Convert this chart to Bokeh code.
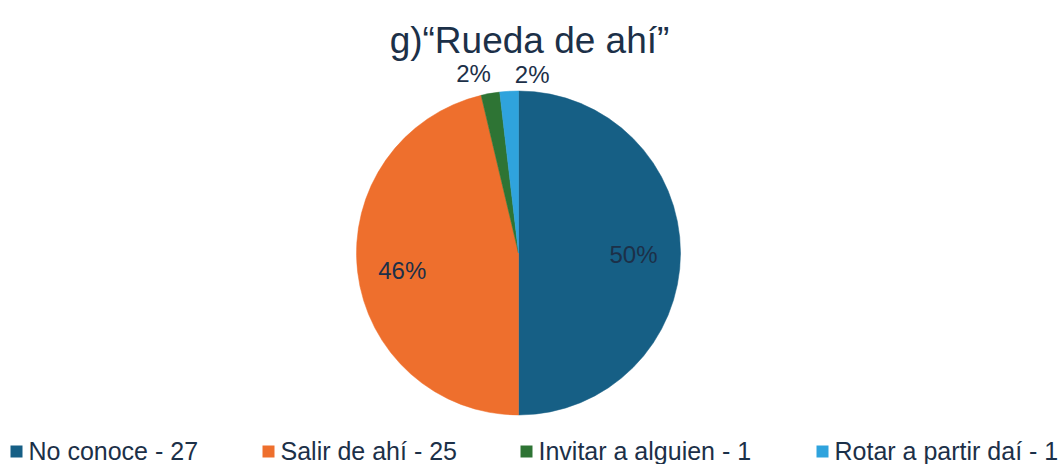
import numpy as np
from bokeh.plotting import figure
from bokeh.models import Range1d, ColumnDataSource
from bokeh.core.properties import value
from bokeh.embed import file_html
from bokeh.resources import INLINE

# ---- data ----
categories = ["No conoce", "Salir de ahí", "Invitar a alguien", "Rotar a partir daí"]
counts = [27, 25, 1, 1]
colors = ["#165f85", "#ee6f2d", "#2e7434", "#2fa3dd"]
title_text = "g)“Rueda de ahí”"

# ---- layout / style ----
W, H = 1064, 464
FONT = "Liberation Sans"
TXT = "#1c3048"
cx, cy, R = 518, 211.5, 162

vals = np.array(counts, dtype=float)
frac = vals / vals.sum()
ends_cum = np.cumsum(frac)
starts_cum = ends_cum - frac
# clockwise from 12 o'clock
start_ang = np.pi / 2 - 2 * np.pi * ends_cum
end_ang = np.pi / 2 - 2 * np.pi * starts_cum
mid_ang = (start_ang + end_ang) / 2
pct = [f"{round(f * 100):.0f}%" for f in frac]

p = figure(width=W, height=H, output_backend="svg", toolbar_location=None,
           x_range=Range1d(0, W), y_range=Range1d(0, H), min_border=0,
           outline_line_color=None, background_fill_color="white",
           border_fill_color="white")
p.axis.visible = False
p.grid.visible = False

src = ColumnDataSource(dict(start=start_ang, end=end_ang, color=colors))
p.wedge(x=cx, y=cy, radius=R, start_angle="start", end_angle="end",
        fill_color="color", line_color="color", line_width=0.5, source=src)

# data labels
lab_r = np.array([0.71, 0.71, 1.1, 1.1]) * R
lx = cx + lab_r * np.cos(mid_ang)
ly = cy + lab_r * np.sin(mid_ang)
xoff = [0, -2, -14, 24]
yoff = [1, 4, -4, -1]
lsrc = ColumnDataSource(dict(x=lx, y=ly, t=pct, xo=xoff, yo=yoff))
p.text(x="x", y="y", text="t", x_offset="xo", y_offset="yo", source=lsrc,
       text_font=value(FONT), text_font_size="24px", text_color=TXT,
       text_align="center", text_baseline="middle")

# title
p.text(x=[529], y=[424], text=[title_text], text_font=value(FONT),
       text_font_size="37px", text_color=TXT, text_align="center",
       text_baseline="middle")

# legend (manual)
leg_x = [10, 262, 520, 816]
leg_labels = [f"{c} - {n}" for c, n in zip(categories, counts)]
p.scatter(x=[x + 6 for x in leg_x], y=[13] * 4, marker="square", size=12,
          fill_color=colors, line_color=None)
p.text(x=[x + 18 for x in leg_x], y=[14] * 4, text=leg_labels,
       text_font=value(FONT), text_font_size="25px", text_color=TXT,
       text_align="left", text_baseline="middle")

open("out.html", "w").write(file_html(p, INLINE))
